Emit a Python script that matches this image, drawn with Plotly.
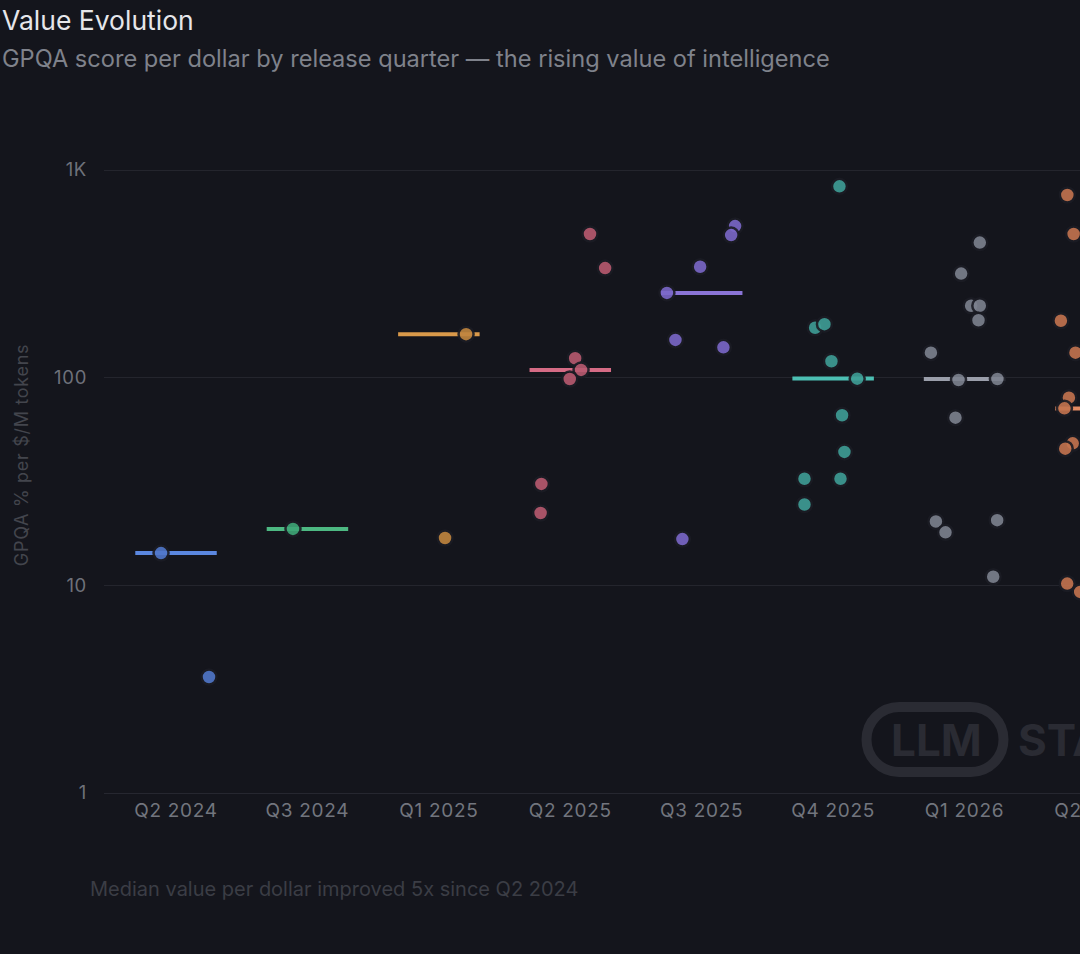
import plotly.graph_objects as go

# ---------------- data ----------------
quarters = ["Q2 2024", "Q3 2024", "Q1 2025", "Q2 2025", "Q3 2025", "Q4 2025", "Q1 2026", "Q2 2026"]

vals_q2_2024 = [14.3, 3.62]
vals_q3_2024 = [18.7]
vals_q1_2025 = [162, 16.9]
vals_q2_2025 = [492, 337, 124, 109, 98.5, 30.8, 22.3]
vals_q3_2025 = [537, 486, 342, 256, 152, 140, 16.7]
vals_q4_2025 = [834, 174, 181, 120, 98.9, 65.9, 43.9, 32.6, 32.6, 24.5]
vals_q1_2026 = [447, 317, 222, 222, 189, 132, 97.4, 98.5, 64.2, 20.3, 18.0, 20.6, 11.0]
vals_q2_2026 = [758, 492, 188, 132, 80.1, 71.2, 48.3, 45.5, 10.2, 9.3]

# horizontal jitter of each point inside its quarter
jit_q2_2024 = [-0.114, 0.251]
jit_q3_2024 = [-0.11]
jit_q1_2025 = [0.207, 0.047]
jit_q2_2025 = [0.15, 0.265, 0.037, 0.082, -0.004, -0.22, -0.226]
jit_q3_2025 = [0.254, 0.224, -0.012, -0.265, -0.2, 0.165, -0.147]
jit_q4_2025 = [0.048, -0.137, -0.066, -0.013, 0.183, 0.068, 0.086, -0.218, 0.056, -0.218]
jit_q1_2026 = [0.116, -0.026, 0.05, 0.116, 0.106, -0.256, -0.046, 0.25, -0.069, -0.218, -0.145, 0.248, 0.218]
jit_q2_2026 = [-0.218, -0.17, -0.267, -0.156, -0.206, -0.24, -0.177, -0.234, -0.219, -0.12]

medians = [14.3, 18.7, 162, 109, 256, 99, 98.5, 71]

y_tickvals = [1, 10, 100, 1000]
y_ticktext = ["1", "10", "100", "1K"]

# ---------------- style ----------------
point_colors = ["#5077c9", "#3fa777", "#c0853f", "#b95a70", "#7b68c8", "#3f9e96", "#7d828f", "#c4744f"]
line_colors = ["#5b87e0", "#4db882", "#d9994a", "#d56b85", "#8a74d6", "#4cbfb3", "#9a9eaa", "#e38a62"]
BG = "#14151c"
FONT = "Inter, 'Open Sans', sans-serif"

all_vals = [vals_q2_2024, vals_q3_2024, vals_q1_2025, vals_q2_2025,
            vals_q3_2025, vals_q4_2025, vals_q1_2026, vals_q2_2026]
all_jit = [jit_q2_2024, jit_q3_2024, jit_q1_2025, jit_q2_2025,
           jit_q3_2025, jit_q4_2025, jit_q1_2026, jit_q2_2026]

W, H = 1200, 954
L, R, T, B = 104, 32, 117, 161
HALF = 0.31

fig = go.Figure()

for i, q in enumerate(quarters):
    fig.add_trace(go.Scatter(
        x=[i - HALF, i + HALF], y=[medians[i], medians[i]],
        mode="lines", line=dict(color=line_colors[i], width=4),
        hoverinfo="skip", showlegend=False))

for i, q in enumerate(quarters):
    fig.add_trace(go.Scatter(
        x=[i + j for j in all_jit[i]], y=all_vals[i],
        mode="markers", name=q,
        marker=dict(size=15, color=point_colors[i], opacity=0.9,
                    line=dict(color="#1b1c24", width=2.5)),
        showlegend=False))

plot_w = W - L - R
plot_h = H - T - B


def px_x(px):
    return (px - L) / plot_w


def px_y(py):
    return (H - B - py) / plot_h


annotations = [
    dict(text="Value Evolution", x=px_x(0), y=px_y(20), xref="paper", yref="paper",
         xanchor="left", yanchor="middle", showarrow=False,
         font=dict(family=FONT, size=26.5, color="#e6e6ea")),
    dict(text="GPQA score per dollar by release quarter \u2014 the rising value of intelligence",
         x=px_x(0), y=px_y(58), xref="paper", yref="paper",
         xanchor="left", yanchor="middle", showarrow=False,
         font=dict(family=FONT, size=23.6, color="#7f828b")),
    dict(text="Median value per dollar improved 5x since Q2 2024",
         x=px_x(88), y=px_y(889), xref="paper", yref="paper",
         xanchor="left", yanchor="middle", showarrow=False,
         font=dict(family=FONT, size=20, color="#3b3d45")),
    dict(text="<b>LLM</b>", x=px_x(936), y=px_y(740), xref="paper", yref="paper",
         xanchor="center", yanchor="middle", showarrow=False,
         font=dict(family=FONT, size=44, color="#2a2b33")),
    dict(text="<b>STATS</b>", x=px_x(1016), y=px_y(740), xref="paper", yref="paper",
         xanchor="left", yanchor="middle", showarrow=False,
         font=dict(family=FONT, size=44, color="#2a2b33")),
]

# stadium outline of the watermark (pixel sized path)
a, r, k = 36.0, 32.5, 0.5523
path = (f"M {-a},{-r} L {a},{-r} "
        f"C {a + k * r},{-r} {a + r},{-k * r} {a + r},0 "
        f"C {a + r},{k * r} {a + k * r},{r} {a},{r} "
        f"L {-a},{r} "
        f"C {-a - k * r},{r} {-a - r},{k * r} {-a - r},0 "
        f"C {-a - r},{-k * r} {-a - k * r},{-r} {-a},{-r} Z")

shapes = [dict(type="path", xref="paper", yref="paper",
               xsizemode="pixel", ysizemode="pixel",
               xanchor=px_x(935), yanchor=px_y(739.5),
               path=path, line=dict(color="#2a2b33", width=10),
               fillcolor="rgba(0,0,0,0)", layer="below")]

fig.update_layout(
    width=W, height=H,
    margin=dict(l=L, r=R, t=T, b=B),
    paper_bgcolor=BG, plot_bgcolor=BG,
    font=dict(family=FONT, color="#70737c"),
    annotations=annotations,
    shapes=shapes,
    xaxis=dict(
        range=[-0.548, len(quarters) - 1 + 0.548],
        tickvals=list(range(len(quarters))), ticktext=quarters,
        showgrid=False, zeroline=False,
        showline=True, linecolor="#262730", linewidth=1,
        ticks="", ticklabelstandoff=0,
        tickfont=dict(family=FONT, size=19, color="#72757e"),
    ),
    yaxis=dict(
        type="log", range=[0, 3.2552],
        tickvals=y_tickvals, ticktext=y_ticktext,
        showgrid=True, gridcolor="#24252d", gridwidth=1,
        zeroline=False, showline=False, ticks="", ticklabelstandoff=16,
        tickfont=dict(family=FONT, size=18.5, color="#6e717a"),
        title=dict(text="GPQA % per $/M tokens", standoff=22,
                   font=dict(family=FONT, size=18, color="#43454d")),
    ),
)

post = (
    "document.body.style.margin='0';"
    "document.body.style.overflow='hidden';"
    "document.documentElement.style.overflow='hidden';"
    "var st=document.createElement('style');"
    "st.textContent='.xtick text, .ytick text, text.ytitle{letter-spacing:0.7px;}';"
    "document.head.appendChild(st);"
)

fig.write_html("out.html", post_script=post)
